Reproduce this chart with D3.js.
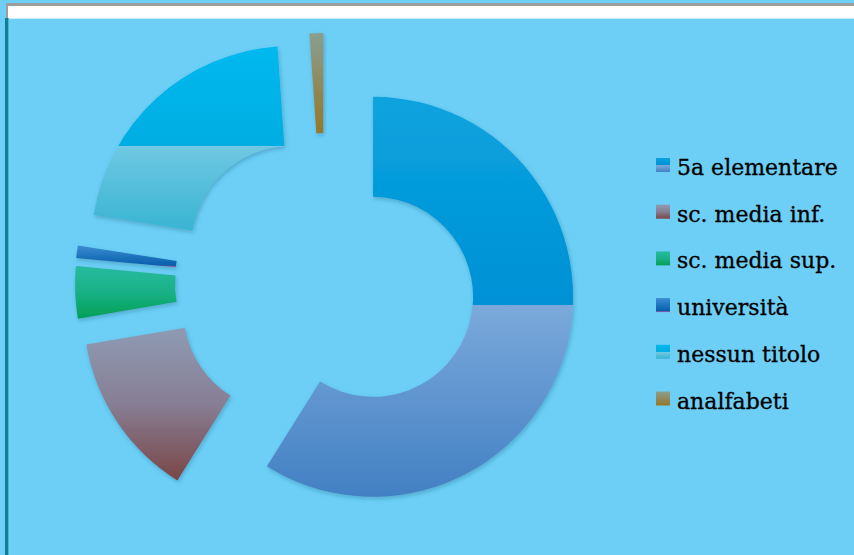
<!DOCTYPE html>
<html>
<head>
<meta charset="utf-8">
<script src="https://cdn.jsdelivr.net/npm/d3@7"></script>
<style>
  html, body { margin: 0; padding: 0; background: #6dcff6; }
  svg { display: block; }
</style>
</head>
<body>
<svg id="chart" width="854" height="555"></svg>
<script>
// Titolo di studio — share of each group (%)
const categories = ["5a elementare", "sc. media inf.", "sc. media sup.", "università", "nessun titolo", "analfabeti"];
const values = [58.9, 13.4, 4.2, 1.0, 21.4, 1.1];

// vertical gradient stops for each series [offset, colour]
const gradientStops = [
  [[0, "#0aa3df"], [0.52, "#0091d5"], [0.52, "#7ba9db"], [1, "#4280c3"]],
  [[0, "#8e9bb4"], [0.5, "#877e94"], [1, "#7a4646"]],
  [[0, "#27bb9f"], [0.5, "#19b186"], [1, "#029f55"]],
  [[0, "#3c8dd0"], [0.85, "#0b62b0"], [0.9, "#0b5fae"], [1, "#c1579d"]],
  [[0, "#00b9ef"], [0.54, "#00ade2"], [0.54, "#70c8e2"], [1, "#38b4d3"]],
  [[0, "#8b9e8e"], [0.5, "#8f8a5e"], [1, "#957828"]]
];

const W = 854, H = 555;
const svg = d3.select("#chart");
const defs = svg.append("defs");

// drop shadow for slices
const shadow = defs.append("filter").attr("id", "shadow")
  .attr("x", "-20%").attr("y", "-20%").attr("width", "140%").attr("height", "140%");
shadow.append("feDropShadow")
  .attr("dx", 1).attr("dy", 2).attr("stdDeviation", 2)
  .attr("flood-color", "#1b5d78").attr("flood-opacity", 0.35);

gradientStops.forEach((stops, i) => {
  const g = defs.append("linearGradient").attr("id", "grad" + i)
    .attr("x1", 0).attr("y1", 0).attr("x2", 0).attr("y2", 1);
  stops.forEach(([o, c]) => g.append("stop").attr("offset", o).attr("stop-color", c));
});

// background and frame
svg.append("rect").attr("width", W).attr("height", H).attr("fill", "#6dcff6");
svg.append("rect").attr("x", 6).attr("y", 3).attr("width", W - 6).attr("height", 3).attr("fill", "#9b9d9f");
svg.append("rect").attr("x", 8).attr("y", 6).attr("width", W - 8).attr("height", 12).attr("fill", "#ffffff");
svg.append("rect").attr("x", 8).attr("y", 18).attr("width", W - 8).attr("height", 1).attr("fill", "#cdeaf5");
svg.append("rect").attr("x", 6).attr("y", 3).attr("width", 2).attr("height", 16).attr("fill", "#9b9d9f");
svg.append("rect").attr("x", 5).attr("y", 18).attr("width", 3).attr("height", H - 18).attr("fill", "#117e96");
svg.append("rect").attr("x", 8).attr("y", 18).attr("width", 1).attr("height", H - 18).attr("fill", "#4fb3d3");

// exploded doughnut
const cx = 325, cy = 283;
const outerR = 200, innerR = 100, explode = 0.25 * outerR;

const pie = d3.pie().sort(null).value(d => d)
  .startAngle(0).endAngle(2 * Math.PI);
const arc = d3.arc().innerRadius(innerR).outerRadius(outerR);
const arcs = pie(values);

const g = svg.append("g").attr("transform", `translate(${cx},${cy})`);
g.selectAll("path.slice")
  .data(arcs)
  .join("path")
  .attr("class", "slice")
  .attr("d", arc)
  .attr("fill", (d, i) => `url(#grad${i})`)
  .attr("filter", "url(#shadow)")
  .attr("transform", d => {
    const m = (d.startAngle + d.endAngle) / 2;
    return `translate(${explode * Math.sin(m)},${-explode * Math.cos(m)})`;
  });

// legend
const legend = svg.append("g").attr("transform", "translate(656,158)");
const rowH = 46.7;
const items = legend.selectAll("g.item")
  .data(categories)
  .join("g")
  .attr("class", "item")
  .attr("transform", (d, i) => `translate(0,${i * rowH})`);
items.append("rect")
  .attr("width", 14).attr("height", 14)
  .attr("fill", (d, i) => `url(#grad${i})`);
items.append("text")
  .attr("x", 21).attr("y", 17)
  .attr("font-family", "'DejaVu Serif', serif")
  .attr("font-size", 22)
  .attr("fill", "#000")
  .attr("stroke", "#000")
  .attr("stroke-width", 0.3)
  .text(d => d);
</script>
</body>
</html>
